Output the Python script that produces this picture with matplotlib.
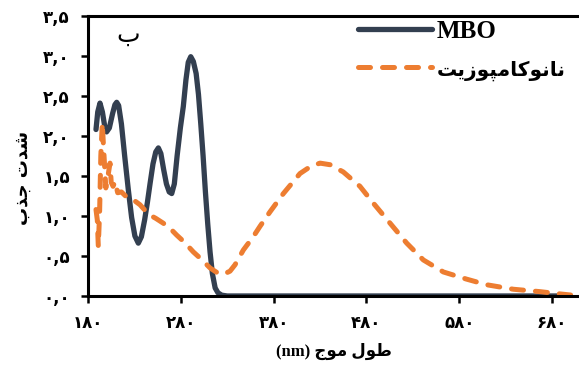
import matplotlib
matplotlib.use("Agg")
import matplotlib.pyplot as plt

# wavelength (nm) / absorbance readings
mbo_x = [188.6, 190.5, 192.9, 195.5, 198.0, 200.0, 203.0, 206.5, 209.0, 210.9, 213.0,
         216.0, 219.5, 223.4, 227.0, 230.5, 234.2, 237.5, 241.0, 244.0, 246.8, 250.0,
         253.0, 255.8, 258.5, 261.5, 264.5, 267.5, 270.2, 273.0, 276.0, 279.5, 282.7,
         285.5, 288.0, 290.7, 293.5, 296.5, 299.0, 301.5, 304.0, 306.5, 309.0, 311.5,
         314.0, 317.0, 320.0, 324.0, 330.0, 400.0, 500.0, 600.0, 700.0]
mbo_y = [2.08, 2.30, 2.41, 2.30, 2.12, 2.05, 2.10, 2.28, 2.39, 2.42, 2.38,
         2.15, 1.75, 1.33, 0.98, 0.75, 0.66, 0.74, 0.95, 1.17, 1.40, 1.65,
         1.80, 1.85, 1.78, 1.58, 1.40, 1.30, 1.28, 1.40, 1.75, 2.10, 2.37,
         2.70, 2.92, 2.99, 2.93, 2.78, 2.52, 2.15, 1.75, 1.30, 0.90, 0.55,
         0.28, 0.10, 0.04, 0.01, 0.0, 0.0, 0.0, 0.0, 0.0]

nano_x = [188.6, 190.0, 191.1, 192.5, 193.8, 195.4, 196.5, 198.0, 199.2, 200.5, 201.8,
          203.7, 205.0, 207.0, 209.0, 212.0, 216.0, 223.0, 229.0, 236.0, 241.4, 246.8,
          253.0, 261.0, 268.0, 275.6, 284.0, 293.5, 302.0, 311.5, 318.0, 323.0, 327.6,
          333.0, 338.4, 347.4, 358.0, 365.3, 376.0, 390.5, 408.4, 420.0, 430.0, 440.8,
          455.0, 473.0, 487.4, 505.4, 523.4, 541.3, 562.9, 588.0, 609.6, 638.3, 667.0,
          685.0, 700.0]
nano_y = [1.08, 0.95, 0.62, 1.05, 1.75, 2.16, 1.91, 1.60, 1.35, 1.48, 1.52,
          1.66, 1.42, 1.37, 1.43, 1.29, 1.30, 1.22, 1.20, 1.14, 1.07, 1.01,
          0.97, 0.91, 0.85, 0.76, 0.67, 0.55, 0.46, 0.35, 0.30, 0.27, 0.28,
          0.31, 0.39, 0.575, 0.74, 0.87, 1.05, 1.28, 1.53, 1.62, 1.66, 1.64,
          1.55, 1.37, 1.16, 0.91, 0.66, 0.45, 0.30, 0.21, 0.14, 0.084, 0.054,
          0.03, 0.012]

x_ticks = [180, 280, 380, 480, 580, 680]
y_ticks = [0.0, 0.5, 1.0, 1.5, 2.0, 2.5, 3.0, 3.5]

# Persian strings, pre-shaped (presentation forms, visual order)
label_mbo = "MBO"
label_nano = "\uFE96\uFBFE\uFEAF\uFEEE\uFB59\uFEE3\uFE8E\uFB90\uFEEE\uFEE7\uFE8E\uFEE7"
x_title = "(nm) \uFE9D\uFEEE\uFEE3 \uFEDD\uFEEE\uFEC3"
y_title = "\uFE8F\uFEAC\uFE9F \uFE95\uFEAA\uFEB7"
panel = "\uFE8F"

fa_digits = str.maketrans("0123456789", "\u06F0\u06F1\u06F2\u06F3\u06F4\u06F5\u06F6\u06F7\u06F8\u06F9")


def fa(s):
    return s.translate(fa_digits)


mbo_color = "#333F50"
nano_color = "#ED7D31"
fams = ["Liberation Serif", "DejaVu Sans"]

fig = plt.figure(figsize=(5.79, 3.78), dpi=100)
ax = fig.add_axes([0.152, 0.217, 0.848, 0.741])

ax.plot(mbo_x, mbo_y, color=mbo_color, lw=3.8, solid_joinstyle="round",
        solid_capstyle="round", label=label_mbo)
ax.plot(nano_x, nano_y, color=nano_color, lw=3.6, dashes=(2.4, 2.4),
        dash_capstyle="round", dash_joinstyle="round", label=label_nano)

ax.set_xlim(180, 709)
ax.set_ylim(0, 3.5)
ax.set_xticks(x_ticks)
ax.set_xticklabels([fa(str(v)) for v in x_ticks], fontweight="bold", fontsize=12,
                   family="DejaVu Sans")
ax.set_yticks(y_ticks)
ax.set_yticklabels([fa(f"{v:.1f}".replace(".", ",")) for v in y_ticks], fontweight="bold",
                   fontsize=12, family="DejaVu Sans")
ax.tick_params(direction="out", length=5, width=1.8, color="black", pad=8)

for side in ["left", "bottom", "top"]:
    ax.spines[side].set_linewidth(2.2)
    ax.spines[side].set_color("black")
ax.spines["right"].set_visible(False)

ax.set_xlabel(x_title, fontweight="bold", fontsize=12, family=fams, labelpad=8)
ax.set_ylabel(y_title, fontweight="bold", fontsize=13, family="DejaVu Sans")
ax.yaxis.set_label_coords(-0.114, 0.42)

ax.text(223, 3.26, panel, fontsize=18, family="DejaVu Sans", ha="center", va="center")

leg = ax.legend(loc="upper left", bbox_to_anchor=(0.55, 0.985), frameon=False,
                handlelength=2.95, labelspacing=0.62, handletextpad=0.2,
                borderpad=0, borderaxespad=0,
                prop={"family": fams, "weight": "bold", "size": 18})
leg.get_texts()[1].set_fontsize(14.5)

fig.savefig("out.png", dpi=100)
